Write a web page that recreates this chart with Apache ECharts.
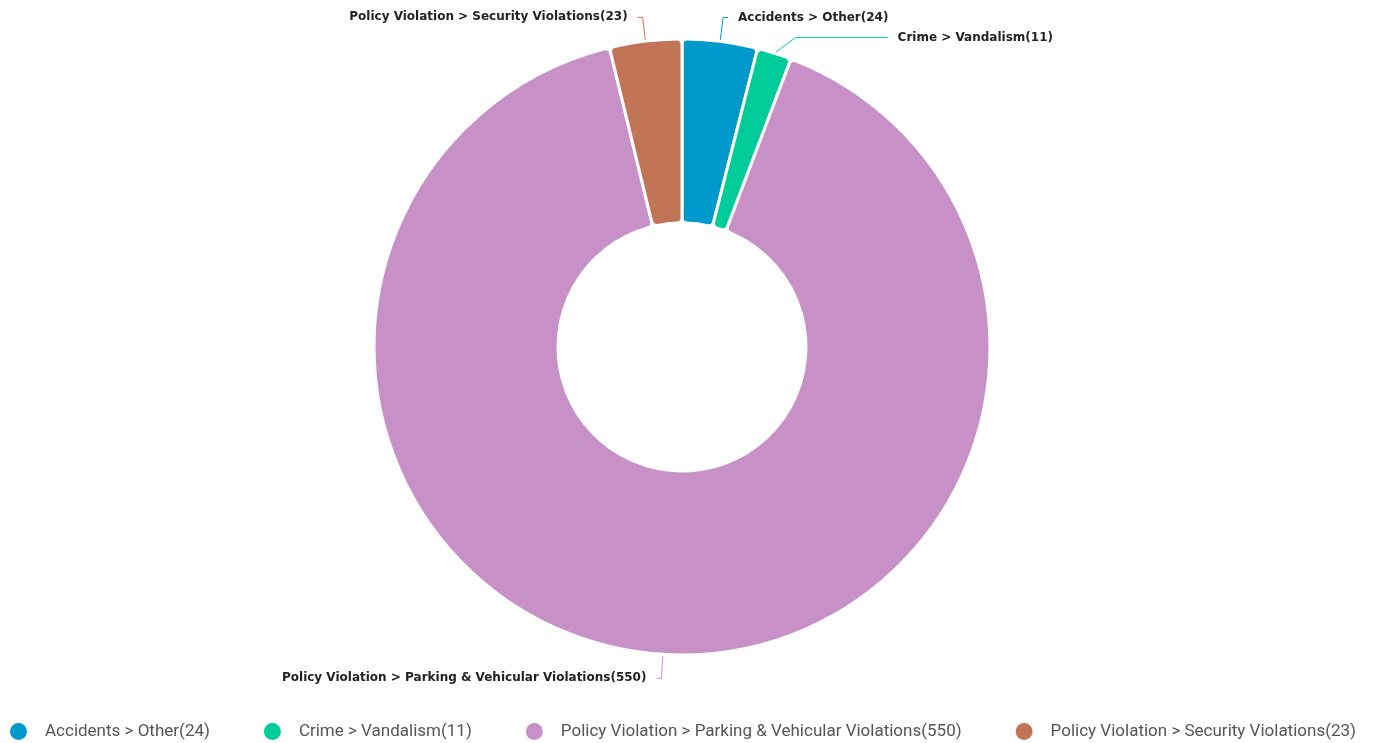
<!DOCTYPE html>
<html>
<head>
<meta charset="utf-8">
<title>Incidents by category</title>
<script src="https://cdn.jsdelivr.net/npm/echarts@6/dist/echarts.min.js"></script>
<style>
  html, body { margin: 0; padding: 0; background: #fff; }
  #chart { width: 1377px; height: 743px; }
</style>
</head>
<body>
<div id="chart"></div>
<script>
// chart data
const categories = [
  'Accidents > Other',
  'Crime > Vandalism',
  'Policy Violation > Parking & Vehicular Violations',
  'Policy Violation > Security Violations'
]
const counts = [24, 11, 550, 23]
const colors = ['#0099cc', '#00cc99', '#c791c8', '#c27556']

const names = categories.map((c, i) => c + '(' + counts[i] + ')')

const chart = echarts.init(document.getElementById('chart'))

chart.setOption({
  color: colors,
  animation: false,
  legend: {
    top: 721,
    left: 8,
    padding: 0,
    icon: 'circle',
    itemWidth: 19,
    itemHeight: 19,
    itemGap: 52,
    textStyle: {
      fontFamily: 'Roboto',
      fontSize: 17,
      color: '#555',
      padding: [0, 0, 0, 12]
    },
    data: names
  },
  series: [
    {
      type: 'pie',
      center: [682, 347],
      radius: [124, 308],
      startAngle: 90,
      itemStyle: {
        borderColor: '#fff',
        borderWidth: 3,
        borderRadius: 5
      },
      label: {
        show: true,
        formatter: '{b}',
        fontFamily: 'DejaVu Sans',
        fontWeight: 'bold',
        fontSize: 12,
        lineHeight: 18,
        color: '#222',
        distanceToLabelLine: 10
      },
      labelLine: {
        length: 24,
        length2: 5,
        smooth: false
      },
      data: names.map((n, i) => {
        const item = { name: n, value: counts[i] }
        // the small crime slice gets a long leader so its label clears the one above
        if (i === 1) item.labelLine = { length2: 92 }
        return item
      })
    }
  ]
})
</script>
</body>
</html>
